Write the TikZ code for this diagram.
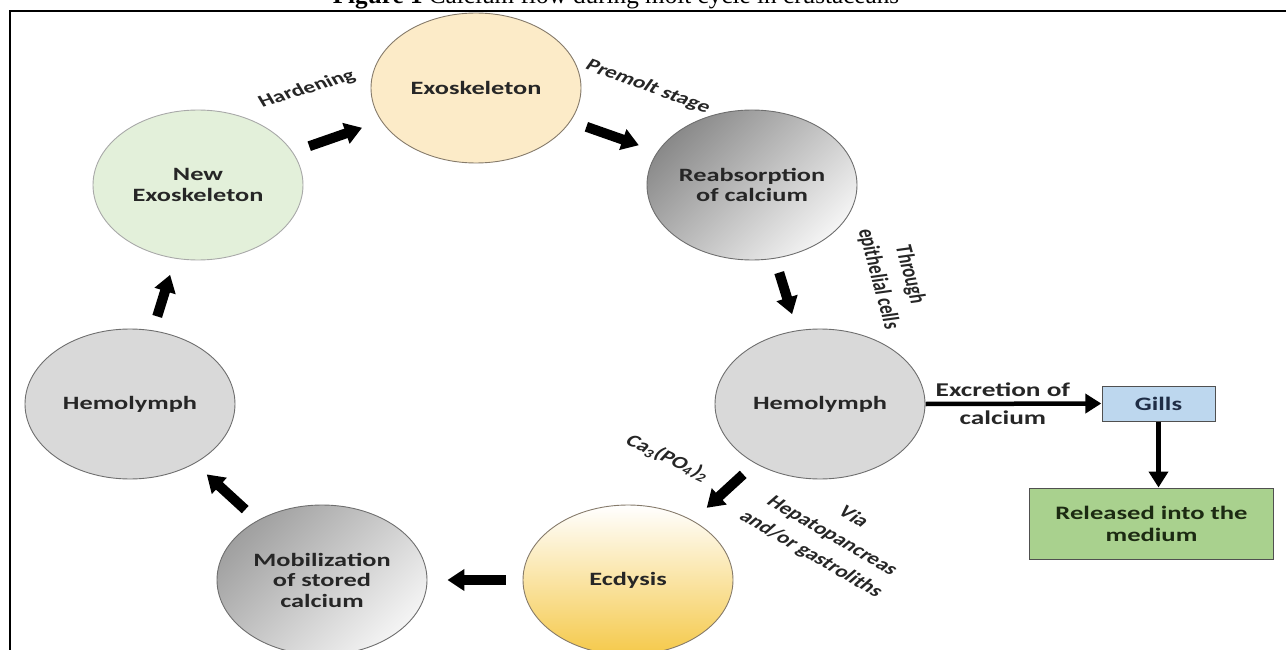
\documentclass[tikz,border=0pt]{standalone}
\usepackage{fontspec}
\setmainfont{Liberation Serif}
\newfontfamily\cbf{Carlito}
\usetikzlibrary{arrows.meta,calc}
\definecolor{exofill}{HTML}{FCEBC8}
\definecolor{exoedge}{HTML}{857A6A}
\definecolor{grayfill}{HTML}{D9D9D9}
\definecolor{grayedge}{HTML}{6E6E6E}
\definecolor{greenfill}{HTML}{E3F0DA}
\definecolor{greenedge}{HTML}{A8A8A8}
\definecolor{gillfill}{HTML}{BDD7EE}
\definecolor{relfill}{HTML}{A9D18E}
\definecolor{boxedge}{HTML}{505050}
\definecolor{ecdyel}{HTML}{F5C94A}
\definecolor{darkg}{HTML}{8A8A8A}
\definecolor{lightg}{HTML}{F4F4F4}
\definecolor{midg}{HTML}{A0A0A0}
\definecolor{txt}{HTML}{262626}
\definecolor{gilltxt}{HTML}{1F2D45}
\definecolor{reltxt}{HTML}{1C2A12}
\begin{document}
\begin{tikzpicture}[x=1pt,y=-1pt,
  circ/.style={circle, minimum size=150pt, inner sep=0pt, xscale=1.4, draw=grayedge,
    line width=0.9pt, align=center, text=txt, font=\cbf\bfseries\fontsize{18.8}{20.5}\selectfont},
  lbl/.style={xscale=1.4, inner sep=0pt, align=center, text=txt,
    font=\cbf\bfseries\fontsize{17}{20}\selectfont},
  barrow/.style={line width=10pt, -{Triangle[length=17pt,width=21pt]}},
  tarrow/.style={line width=4.5pt, -{Triangle[length=16pt,width=19pt]}},
  box/.style={xscale=1.4, draw=boxedge, line width=1pt, inner sep=0pt, align=center,
    font=\cbf\bfseries\fontsize{19}{22}\selectfont}
]
\path[use as bounding box] (0,0) rectangle (1286,650);
\clip (0,0) rectangle (1286,650);

% title and frame
\node[anchor=base, inner sep=0pt, font=\fontsize{25.2}{30}\selectfont] (title) at (616,3.5)
  {\textbf{Figure 1} Calcium flow during molt cycle in crustaceans};
\draw[line width=2.6pt] (10,652) |- (1290,11);

% cycle nodes
\node[circ, fill=exofill, draw=exoedge] (exo) at (476,88) {Exoskeleton};
\node[circ, top color=darkg, bottom color=lightg, shading angle=45] (reab) at (752,185) {Reabsorption\\of calcium};
\node[circ, fill=grayfill] (hemR) at (820,404) {Hemolymph};
\node[circ, top color=white, bottom color=ecdyel, draw=exoedge] (ecd) at (628,580) {Ecdysis};
\node[circ, top color=midg, bottom color=lightg, shading angle=45] (mob) at (322,580) {Mobilization\\of stored\\calcium};
\node[circ, fill=grayfill] (hemL) at (130,404) {Hemolymph};
\node[circ, fill=greenfill, draw=greenedge] (newexo) at (198,185) {New\\Exoskeleton};

% boxes
\node[box, fill=gillfill, text=gilltxt, minimum width=80.7pt, minimum height=35pt] (gills) at (1158.5,403.5) {Gills};
\node[box, fill=relfill, text=reltxt, minimum width=173.6pt, minimum height=71pt] (rel) at (1151.5,523.5) {Released into the\\medium};

% block arrows of the cycle
\draw[barrow] ($(newexo)!0.40!(exo)$) -- ($(newexo)!0.59!(exo)$);
\draw[barrow] ($(exo)!0.40!(reab)$) -- ($(exo)!0.59!(reab)$);
\draw[barrow] ($(reab)!0.40!(hemR)$) -- ($(reab)!0.59!(hemR)$);
\draw[barrow] ($(hemR)!0.40!(ecd)$) -- ($(hemR)!0.59!(ecd)$);
\draw[barrow] ($(ecd)!0.40!(mob)$) -- ($(ecd)!0.59!(mob)$);
\draw[barrow] ($(mob)!0.40!(hemL)$) -- ($(mob)!0.60!(hemL)$);
\draw[barrow] ($(hemL)!0.40!(newexo)$) -- ($(hemL)!0.59!(newexo)$);

% excretion branch
\draw[tarrow] (hemR.east) -- node[lbl, pos=0.44, font=\cbf\bfseries\fontsize{19.5}{28}\selectfont] (exc) {Excretion of\\calcium} (gills.west);
\draw[tarrow] (gills.south) -- (gills.south |- rel.north);

% labels
\node[lbl, rotate=23] (hard) at (307,89) {Hardening};
\node[lbl, rotate=-27] (prem) at (648,87) {Premolt stage};
\node[lbl, rotate=-79, font=\cbf\bfseries\fontsize{17}{23}\selectfont] (thr) at (894,277) {Through\\epithelial cells};
\node[lbl, rotate=-33] (ca) at (668,458) {Ca\textsubscript{3}(PO\textsubscript{4})\textsubscript{2}};
\node[lbl, rotate=-39, font=\cbf\bfseries\fontsize{17}{24}\selectfont] (via) at (832,536) {Via\\Hepatopancreas\\and/or gastroliths};
\end{tikzpicture}
\end{document}
